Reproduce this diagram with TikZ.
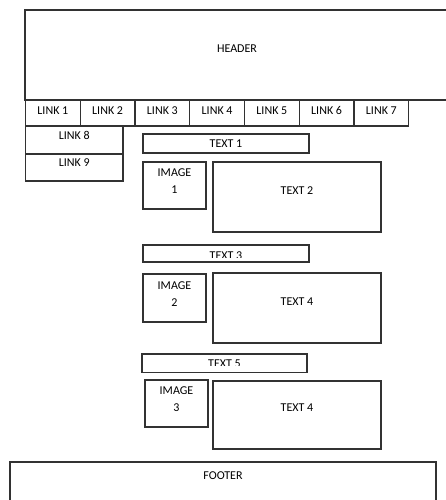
\documentclass[tikz,border=0pt]{standalone}
\usepackage{fontspec}
\setmainfont{Carlito}
\usetikzlibrary{positioning}
\definecolor{FrameGray}{RGB}{50, 50, 50}

\tikzset{
  pbox/.style={draw=FrameGray, line width=1.2pt, inner sep=0pt, outer sep=0pt, anchor=north west},
  lbl/.style={inner sep=0pt, align=center, font=\fontsize{12}{17}\selectfont},
  linkbox/.style={pbox, lbl, minimum width=54.75pt, minimum height=26pt, text depth=4.6pt}
}

\begin{document}
\begin{tikzpicture}[x=1pt, y=-1pt]
    % Page frame
    \clip (0, 0) rectangle (446, 500);

    % Header and menu
    \node[pbox, minimum width=424pt, minimum height=90pt] (hdr) at (25, 10) {};
    \node[lbl, below=35pt of hdr.north] (hdrlbl) {HEADER};
    \foreach \i in {1,...,7}
      \node[linkbox] (link\i) at ({25.5+54.75*(\i-1)}, 100) {LINK \i};
    \node[pbox, lbl, minimum width=97.5pt, minimum height=28pt, text depth=10pt] (link8) at (25.5, 126) {LINK 8};
    \node[pbox, lbl, minimum width=97.5pt, minimum height=27pt, text depth=10pt] (link9) at (25.5, 154) {LINK 9};

    % First block
    \node[pbox, lbl, minimum width=166pt, minimum height=19pt] (txt1) at (143, 134) {TEXT 1};
    \node[pbox, minimum width=63pt, minimum height=47pt] (img1) at (143, 162) {};
    \node[lbl, below=7pt of img1.north] (img1lbl) {IMAGE\\1};
    \node[pbox, minimum width=168pt, minimum height=70pt] (txt2) at (213, 162) {};
    \node[lbl, below=25pt of txt2.north] (txt2lbl) {TEXT 2};

    % Second block
    \node[pbox, minimum width=166pt, minimum height=17pt] (txt3) at (143, 245) {};
    \begin{scope}
      \clip (txt3.north west) rectangle ([yshift=4.3pt]txt3.south east);
      \node[lbl, below=6.5pt of txt3.north] (txt3lbl) {TEXT 3};
    \end{scope}
    \node[pbox, minimum width=63pt, minimum height=48pt] (img2) at (143, 274) {};
    \node[lbl, below=8pt of img2.north] (img2lbl) {IMAGE\\2};
    \node[pbox, minimum width=168pt, minimum height=70pt] (txt4) at (213, 273) {};
    \node[lbl, below=25pt of txt4.north] (txt4lbl) {TEXT 4};

    % Third block
    \node[pbox, minimum width=165pt, minimum height=18.7pt] (txt5) at (142, 354) {};
    \begin{scope}
      \clip (txt5.north west) rectangle ([yshift=7.7pt]txt5.south east);
      \node[lbl, below=6pt of txt5.north] (txt5lbl) {TEXT 5};
    \end{scope}
    \node[pbox, minimum width=63pt, minimum height=47pt] (img3) at (145, 380) {};
    \node[lbl, below=7pt of img3.north] (img3lbl) {IMAGE\\3};
    \node[pbox, minimum width=168pt, minimum height=68pt] (txt4b) at (213, 381) {};
    \node[lbl, below=23pt of txt4b.north] (txt4blbl) {TEXT 4};

    % Footer
    \node[pbox, minimum width=426pt, minimum height=60pt] (ftr) at (10, 462) {};
    \node[lbl, below=10pt of ftr.north] (ftrlbl) {FOOTER};
  \end{tikzpicture}
\end{document}
